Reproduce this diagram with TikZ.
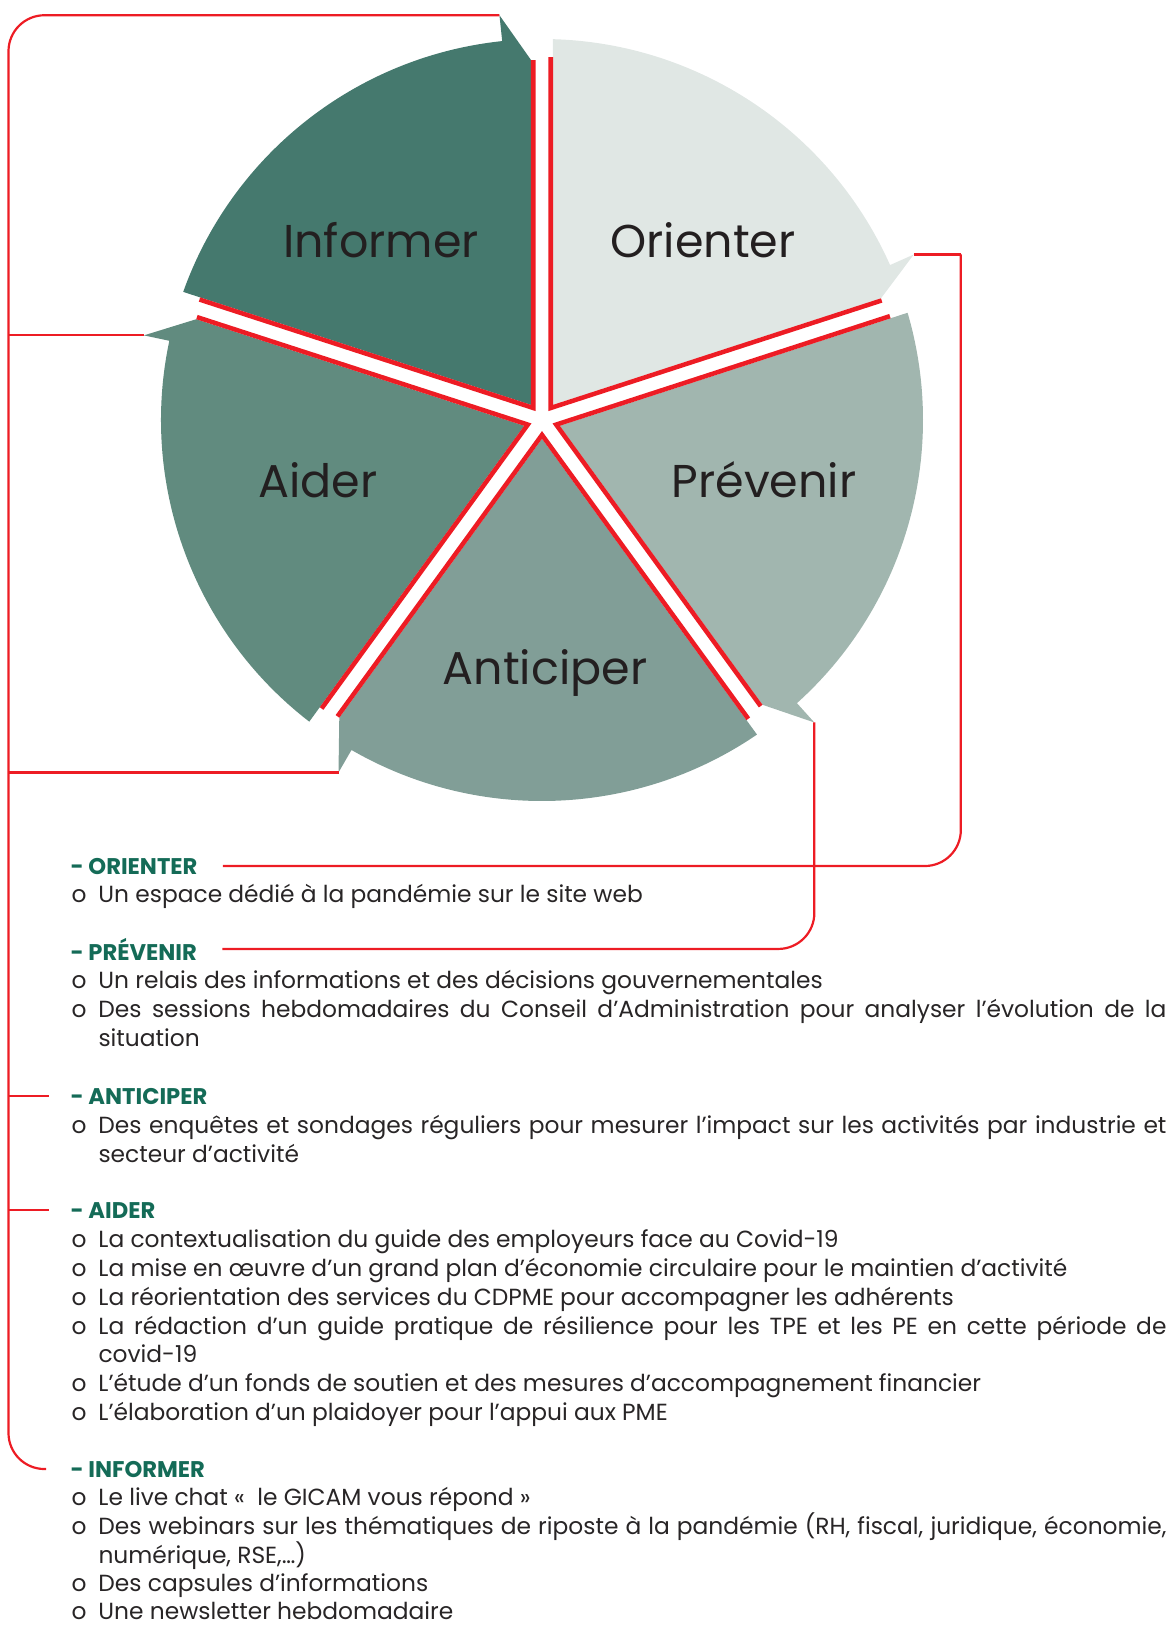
\documentclass[tikz,border=0pt]{standalone}
\usepackage{fontspec}
\setmainfont{Poppins}

\tikzset{every picture/.style={line width=0.75pt}}
\tikzset{
  filet/.style={color={rgb, 255:red, 237; green, 28; blue, 36 }, line width=3.4pt, line join=miter},
  lien/.style={color={rgb, 255:red, 237; green, 28; blue, 36 }, line width=1.65pt},
  etiquette/.style={anchor=base, inner sep=0pt, font=\fontsize{34.5}{40}\selectfont, text={rgb, 255:red, 35; green, 31; blue, 32 }},
  titre/.style={anchor=base west, inner sep=0pt, font=\bfseries\fontsize{17}{21}\selectfont, text={rgb, 255:red, 20; green, 107; blue, 87 }},
  ligne/.style={anchor=base west, inner sep=0pt, font=\fontsize{17.5}{21}\selectfont, text={rgb, 255:red, 40; green, 37; blue, 38 }},
  puce/.style={ligne, execute at begin node={\makebox[20.25pt][l]{o}}},
}

\begin{document}
\begin{tikzpicture}[x=0.75pt,y=0.75pt,yscale=-1,xscale=1]
	\path[use as bounding box] (0,0) rectangle (1171,1625);
	%Shape: Sector [Informer]
	\begin{scope}[shift={(542,420)},yscale=-1,rotate=90]
	\fill[color={rgb, 255:red, 69; green, 121; blue, 110 }] (36:18.7) -- (360,11) -- (6:407) -- (6:381) arc[start angle=6,end angle=70.35,radius=381] -- cycle;
	\draw[filet] (360,8.75) -- (36:14.9) -- (70.62:363.1);
	\coordinate (tipInf) at (6:407);
	\end{scope}
	%Shape: Sector [Orienter]
	\begin{scope}[shift={(542,420)},yscale=-1,rotate=18]
	\fill[color={rgb, 255:red, 224; green, 231; blue, 228 }] (36:18.7) -- (360,11) -- (6:407) -- (6:381) arc[start angle=6,end angle=70.35,radius=381] -- cycle;
	\draw[filet] (360,8.75) -- (36:14.9) -- (70.62:363.1);
	\coordinate (tipOri) at (6:407);
	\end{scope}
	%Shape: Sector [Prevenir]
	\begin{scope}[shift={(542,420)},yscale=-1,rotate=-54]
	\fill[color={rgb, 255:red, 161; green, 182; blue, 175 }] (36:18.7) -- (360,11) -- (6:407) -- (6:381) arc[start angle=6,end angle=70.35,radius=381] -- cycle;
	\draw[filet] (360,8.75) -- (36:14.9) -- (70.62:363.1);
	\coordinate (tipPre) at (6:407);
	\end{scope}
	%Shape: Sector [Anticiper]
	\begin{scope}[shift={(542,420)},yscale=-1,rotate=-126]
	\fill[color={rgb, 255:red, 129; green, 158; blue, 151 }] (36:18.7) -- (360,11) -- (6:407) -- (6:381) arc[start angle=6,end angle=70.35,radius=381] -- cycle;
	\draw[filet] (360,8.75) -- (36:14.9) -- (70.62:363.1);
	\coordinate (tipAnt) at (6:407);
	\end{scope}
	%Shape: Sector [Aider]
	\begin{scope}[shift={(542,420)},yscale=-1,rotate=162]
	\fill[color={rgb, 255:red, 97; green, 139; blue, 127 }] (36:18.7) -- (360,11) -- (6:407) -- (6:381) arc[start angle=6,end angle=70.35,radius=381] -- cycle;
	\draw[filet] (360,8.75) -- (36:14.9) -- (70.62:363.1);
	\coordinate (tipAid) at (6:407);
	\end{scope}

	% Text Node
	\node[etiquette] (labInf) at (381,257) {Informer};
	% Text Node
	\node[etiquette] (labOri) at (703,257) {Orienter};
	% Text Node
	\node[etiquette] (labAid) at (318,497) {Aider};
	% Text Node
	\node[etiquette] (labPre) at (764,497) {Prévenir};
	% Text Node
	\node[etiquette] (labAnt) at (545,684) {Anticiper};

	% Text Node
	\node[titre] (hOri) at (70,874) {- ORIENTER};
	\node[puce] (ori1) at (71,902) {Un espace dédié à la pandémie sur le site web};
	% Text Node
	\node[titre] (hPre) at (70,960) {- PRÉVENIR};
	\node[puce] (pre1) at (71,988) {Un relais des informations et des décisions gouvernementales};
	\node[puce] (pre2) at (71,1017) {\makebox[801pt][s]{Des sessions hebdomadaires du Conseil d’Administration pour analyser l’évolution de la}};
	\node[ligne] (pre2b) at (98,1046) {situation};
	% Text Node
	\node[titre] (hAnt) at (70,1104) {- ANTICIPER};
	\node[puce] (ant1) at (71,1133) {\makebox[801pt][s]{Des enquêtes et sondages réguliers pour mesurer l’impact sur les activités par industrie et}};
	\node[ligne] (ant1b) at (98,1162) {secteur d’activité};
	% Text Node
	\node[titre] (hAid) at (70,1218) {- AIDER};
	\node[puce] (aid1) at (71,1247) {La contextualisation du guide des employeurs face au Covid-19};
	\node[puce] (aid2) at (71,1276) {La mise en œuvre d’un grand plan d’économie circulaire pour le maintien d’activité};
	\node[puce] (aid3) at (71,1305) {La réorientation des services du CDPME pour accompagner les adhérents};
	\node[puce] (aid4) at (71,1334) {\makebox[801pt][s]{La rédaction d’un guide pratique de résilience pour les TPE et les PE en cette période de}};
	\node[ligne] (aid4b) at (98,1362) {covid-19};
	\node[puce] (aid5) at (71,1391) {L’étude d’un fonds de soutien et des mesures d’accompagnement financier};
	\node[puce] (aid6) at (71,1420) {L’élaboration d’un plaidoyer pour l’appui aux PME};
	% Text Node
	\node[titre] (hInf) at (70,1477) {- INFORMER};
	\node[puce] (inf1) at (71,1505) {Le live chat «~ le GICAM vous répond »};
	\node[puce] (inf2) at (71,1534) {\makebox[801pt][s]{Des webinars sur les thématiques de riposte à la pandémie (RH, fiscal, juridique, économie,}};
	\node[ligne] (inf2b) at (98,1563) {numérique, RSE,…)};
	\node[puce] (inf3) at (71,1591) {Des capsules d’informations};
	\node[puce] (inf4) at (71,1619) {Une newsletter hebdomadaire};

	%Straight Lines [connectors]
	\coordinate (rail) at (8.5,0);
	\draw[lien, rounded corners=27pt] (tipInf) -| (rail |- hInf.west) -- ([xshift=-18pt]hInf.west);
	\draw[lien] (rail |- tipAid) -- (tipAid);
	\draw[lien] (rail |- tipAnt) -- (tipAnt);
	\draw[lien] (rail |- hAnt.west) -- ([xshift=-16pt]hAnt.west);
	\draw[lien] (rail |- hAid.west) -- ([xshift=-16pt]hAid.west);
	\draw[lien] (tipOri) -- ++(47,0) coordinate (coinOri);
	\draw[lien, rounded corners=27pt] (coinOri) |- ([xshift=18.75pt]hOri.east);
	\draw[lien, rounded corners=27pt] (tipPre) |- ([xshift=18.75pt]hPre.east);
\end{tikzpicture}
\end{document}
